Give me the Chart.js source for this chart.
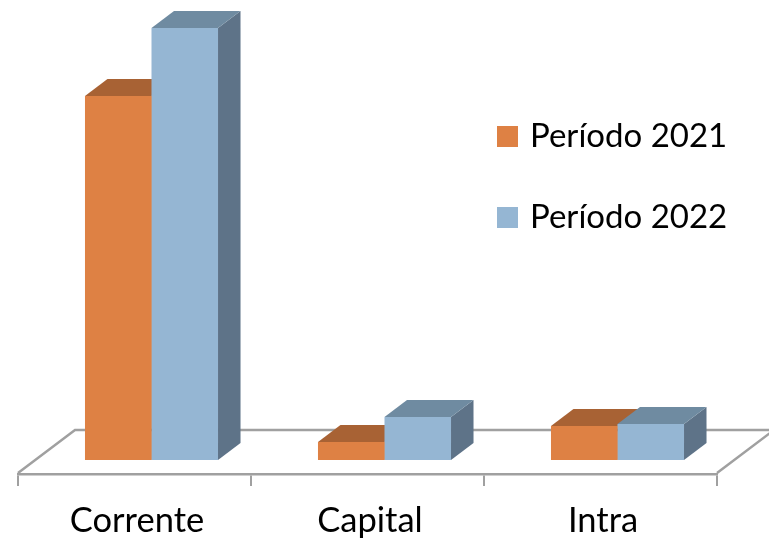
<!DOCTYPE html>
<html>
<head>
<meta charset="utf-8">
<style>
    html, body { margin: 0; padding: 0; background: #fff; }
    canvas { display: block; }
</style>
<script src="https://cdn.jsdelivr.net/npm/chart.js@4/dist/chart.umd.min.js"></script>
</head>
<body>
<canvas id="chart" width="769" height="538"></canvas>
<script>
// Chart data (no value axis in the picture, so values are relative bar heights)
const categories = ['Corrente', 'Capital', 'Intra'];
const seriesNames = ['Período 2021', 'Período 2022'];
const values2021 = [364, 18, 34];
const values2022 = [432, 43, 36];

// Colours: front, top and side faces of the bars
const frontColors = ['#DE8144', '#95B6D3'];
const topColors = ['#A86234', '#6F8BA1'];
const sideColors = ['#8A5230', '#5E7388'];
const lineColor = '#A0A0A0';

// Draws the floor, the 3D faces of the bars and the legend
const fake3d = {
    id: 'fake3d',
    afterDatasetsUpdate(chart) {
        // Bars sit a bit right of the tick labels in the 3D view
        chart.data.datasets.forEach((dataset, i) => {
            chart.getDatasetMeta(i).data.forEach(bar => { bar.x += 17; });
        });
    },
    beforeDatasetsDraw(chart) {
        const ctx = chart.ctx;
        const area = chart.chartArea;

        // Floor
        ctx.save();
        ctx.strokeStyle = lineColor;
        ctx.lineWidth = 2.5;
        ctx.beginPath();
        ctx.moveTo(area.left, area.bottom - 1);
        ctx.lineTo(area.left + 57, area.bottom - 44);
        ctx.lineTo(chart.width + 5, area.bottom - 44);
        ctx.moveTo(area.right, area.bottom - 1);
        ctx.lineTo(area.right + 57, area.bottom - 44);
        ctx.stroke();
        ctx.restore();

        // Top and side of every bar, the front comes from Chart.js
        const dx = 22.5;
        const dy = 17;
        chart.data.datasets.forEach((dataset, i) => {
            chart.getDatasetMeta(i).data.forEach(bar => {
                const left = bar.x - bar.width / 2;
                const right = bar.x + bar.width / 2;
                ctx.fillStyle = sideColors[i];
                ctx.beginPath();
                ctx.moveTo(right, bar.y);
                ctx.lineTo(right + dx, bar.y - dy);
                ctx.lineTo(right + dx, bar.base - dy);
                ctx.lineTo(right, bar.base);
                ctx.closePath();
                ctx.fill();
                ctx.fillStyle = topColors[i];
                ctx.beginPath();
                ctx.moveTo(left, bar.y);
                ctx.lineTo(left + dx, bar.y - dy);
                ctx.lineTo(right + dx, bar.y - dy);
                ctx.lineTo(right, bar.y);
                ctx.closePath();
                ctx.fill();
            });
        });
    },
    afterDraw(chart) {
        const ctx = chart.ctx;
        const legendTops = [126, 207];
        ctx.save();
        ctx.font = '33px Lato';
        ctx.textBaseline = 'alphabetic';
        chart.data.datasets.forEach((dataset, i) => {
            ctx.fillStyle = dataset.backgroundColor;
            ctx.fillRect(497, legendTops[i], 21, 21);
            ctx.fillStyle = '#000';
            ctx.fillText(dataset.label, 530, legendTops[i] + 21);
        });
        ctx.restore();
    }
};

new Chart(document.getElementById('chart'), {
    type: 'bar',
    data: {
        labels: categories,
        datasets: [
            { label: seriesNames[0], data: values2021, backgroundColor: frontColors[0] },
            { label: seriesNames[1], data: values2022, backgroundColor: frontColors[1] }
        ]
    },
    options: {
        responsive: false,
        animation: false,
        devicePixelRatio: 1,
        layout: { padding: { left: 18, right: 52, top: 28, bottom: 0 } },
        categoryPercentage: 0.571,
        barPercentage: 1,
        plugins: { legend: { display: false }, tooltip: { enabled: false } },
        scales: {
            x: {
                afterFit(scale) { scale.height = 64; },
                border: { color: lineColor, width: 2.5 },
                grid: { drawOnChartArea: false, color: lineColor, lineWidth: 2, tickLength: 12 },
                ticks: { color: '#000', font: { family: 'Lato', size: 34.5 }, padding: 14, labelOffset: 2.5, maxRotation: 0 }
            },
            y: { display: false, min: -14, max: 432 }
        }
    },
    plugins: [fake3d]
});
</script>
</body>
</html>
